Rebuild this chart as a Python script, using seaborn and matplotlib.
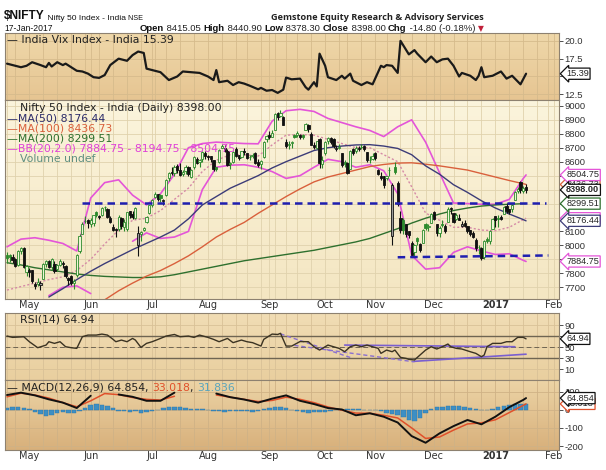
import numpy as np
import pandas as pd
import seaborn as sns
import matplotlib.pyplot as plt
from matplotlib.colors import LinearSegmentedColormap
from matplotlib.transforms import blended_transform_factory

# NSE weekday holidays inside the window (used to build the session axis)
holidays = ['2016-07-06', '2016-08-15', '2016-09-05', '2016-09-13', '2016-10-11',
            '2016-10-12', '2016-10-31', '2016-11-14', '2017-01-26']
month_labels = ['May', 'Jun', 'Jul', 'Aug', 'Sep', 'Oct', 'Nov', 'Dec', '2017', 'Feb']

# daily Nifty candles, 20-Apr-2016 .. 17-Jan-2017
opens = [7930, 7930, 7915, 7900, 7860, 7960, 7985, 7810,
         7822, 7822, 7720, 7727, 7717, 7758, 7870, 7890, 7842, 7870, 7834, 7862, 7875, 7855, 7770, 7783, 7730, 7785, 7960, 8080, 8175, 8185,
         8150, 8160, 8240, 8210, 8215, 8275, 8260, 8200, 8130, 8115, 8120, 8200, 8135, 8120, 8245, 8225, 8200, 8000, 8080, 8110, 8165, 8230,
         8290, 8345, 8365, 8360, 8320, 8360, 8480, 8525, 8520, 8570, 8540, 8510, 8530, 8560, 8490, 8560, 8620, 8600, 8620, 8660,
         8640, 8640, 8610, 8560, 8600, 8700, 8700, 8680, 8580, 8600, 8690, 8645, 8630, 8680, 8660, 8630, 8640, 8660, 8600, 8580, 8630, 8760,
         8790, 8780, 8830, 8950, 8930, 8920, 8740, 8720, 8735, 8790, 8790, 8790, 8790, 8830, 8860, 8800, 8720, 8700, 8760, 8580,
         8660, 8750, 8770, 8760, 8690, 8700, 8660, 8600, 8590, 8550, 8690, 8680, 8700, 8705, 8715, 8670, 8610, 8620,
         8660, 8540, 8500, 8500, 8480, 8540, 8067, 8560, 8450, 8200, 8180, 8150, 8100, 8020, 7950, 8050, 8010, 8020, 8150, 8130, 8160,
         8240, 8150, 8090, 8150, 8140, 8170, 8270, 8230, 8190, 8200, 8140, 8160, 8140, 8110, 8090, 8040, 7990, 7980, 7915, 8045, 8035, 8120,
         8210, 8197, 8202, 8226, 8281, 8260, 8262, 8327, 8391, 8457, 8390, 8415]
highs = [7950, 7935, 7935, 7910, 7970, 7991, 7990, 7860,
         7838, 7823, 7735, 7765, 7745, 7874, 7895, 7895, 7910, 7885, 7870, 7906, 7885, 7860, 7775, 7790, 7760, 7940, 8083, 8165, 8213, 8188,
         8200, 8220, 8250, 8220, 8275, 8285, 8265, 8213, 8150, 8125, 8215, 8205, 8190, 8240, 8247, 8245, 8275, 8140, 8100, 8135, 8210, 8292,
         8333, 8380, 8370, 8370, 8335, 8475, 8525, 8560, 8575, 8585, 8590, 8540, 8575, 8570, 8550, 8640, 8630, 8620, 8680, 8675,
         8650, 8640, 8610, 8560, 8690, 8728, 8720, 8690, 8600, 8680, 8705, 8650, 8680, 8695, 8665, 8650, 8660, 8670, 8620, 8610, 8750, 8790,
         8820, 8825, 8950, 8955, 8968, 8925, 8760, 8750, 8750, 8800, 8820, 8800, 8800, 8880, 8870, 8810, 8740, 8750, 8770, 8640,
         8745, 8780, 8780, 8770, 8720, 8725, 8660, 8610, 8600, 8685, 8700, 8710, 8710, 8725, 8720, 8670, 8640, 8665,
         8670, 8550, 8525, 8500, 8500, 8560, 8450, 8600, 8460, 8250, 8200, 8150, 8100, 8030, 8010, 8060, 8020, 8120, 8160, 8150, 8230,
         8250, 8155, 8140, 8180, 8150, 8275, 8275, 8235, 8230, 8225, 8175, 8185, 8140, 8110, 8100, 8050, 8000, 7990, 8040, 8060, 8110, 8195,
         8212, 8218, 8218, 8282, 8307, 8263, 8294, 8389, 8418, 8461, 8426, 8441]
lows = [7873, 7880, 7872, 7845, 7850, 7935, 7835, 7780,
        7777, 7730, 7690, 7711, 7678, 7758, 7845, 7838, 7825, 7800, 7820, 7855, 7840, 7770, 7718, 7715, 7685, 7775, 7947, 8080, 8160, 8123,
        8135, 8140, 8205, 8188, 8212, 8250, 8195, 8160, 8100, 8060, 8100, 8120, 8105, 8100, 8200, 8187, 8190, 7927, 8030, 8100, 8160, 8222,
        8276, 8340, 8320, 8310, 8290, 8355, 8460, 8505, 8500, 8520, 8500, 8495, 8510, 8500, 8480, 8550, 8580, 8560, 8600, 8620,
        8615, 8600, 8530, 8530, 8590, 8695, 8670, 8570, 8550, 8590, 8630, 8610, 8625, 8650, 8620, 8610, 8625, 8580, 8560, 8545, 8625, 8740,
        8760, 8775, 8825, 8900, 8920, 8860, 8700, 8690, 8700, 8770, 8780, 8760, 8760, 8825, 8810, 8720, 8690, 8690, 8555, 8555,
        8650, 8730, 8730, 8700, 8675, 8690, 8560, 8560, 8510, 8545, 8650, 8660, 8680, 8690, 8680, 8600, 8590, 8615,
        8615, 8505, 8470, 8410, 8470, 8500, 8002, 8510, 8280, 8090, 8080, 8060, 8050, 7920, 7920, 8000, 7955, 8015, 8110, 8100, 8160,
        8180, 8070, 8060, 8130, 8090, 8170, 8225, 8160, 8185, 8180, 8130, 8130, 8090, 8070, 8050, 7960, 7940, 7894, 7905, 8020, 8010, 8115,
        8134, 8134, 8180, 8223, 8233, 8226, 8238, 8322, 8374, 8374, 8373, 8378]
closes = [7912, 7914, 7899, 7855, 7962, 7979, 7847, 7850,
          7806, 7747, 7706, 7735, 7733, 7866, 7887, 7848, 7900, 7814, 7860, 7890, 7870, 7783, 7750, 7731, 7748, 7934, 8069, 8156, 8178, 8160,
          8180, 8219, 8220, 8201, 8266, 8273, 8204, 8170, 8110, 8108, 8206, 8141, 8170, 8238, 8219, 8203, 8270, 8089, 8094, 8127, 8204, 8288,
          8328, 8371, 8335, 8337, 8323, 8467, 8521, 8519, 8565, 8541, 8508, 8528, 8565, 8510, 8541, 8635, 8590, 8615, 8666, 8638,
          8637, 8622, 8545, 8551, 8683, 8711, 8678, 8575, 8592, 8672, 8643, 8624, 8673, 8667, 8629, 8632, 8650, 8592, 8573, 8607, 8744, 8786,
          8774, 8809, 8943, 8917, 8952, 8866, 8715, 8727, 8742, 8780, 8808, 8776, 8778, 8867, 8831, 8723, 8706, 8745, 8591, 8611,
          8738, 8769, 8743, 8709, 8697, 8708, 8573, 8583, 8520, 8677, 8659, 8699, 8693, 8708, 8691, 8615, 8615, 8638,
          8626, 8514, 8485, 8434, 8497, 8543, 8432, 8525, 8296, 8108, 8111, 8079, 8074, 7929, 8002, 8033, 7965, 8114, 8127, 8142, 8224,
          8192, 8086, 8128, 8143, 8102, 8262, 8261, 8170, 8221, 8182, 8153, 8139, 8104, 8082, 8061, 7980, 7986, 7909, 8032, 8035, 8104, 8186,
          8180, 8192, 8190, 8274, 8244, 8236, 8288, 8381, 8407, 8400, 8413, 8398]

# overlay lines, read every 5th session plus the last one
nan = np.nan
ma50 = [nan, nan, nan, 7630, 7690, 7755, 7815, 7870, 7920, 7970,
        8015, 8060, 8110, 8190, 8290, 8350, 8410, 8455, 8500, 8555,
        8600, 8640, 8680, 8700, 8712, 8720, 8722, 8712, 8695, 8650,
        8570, 8510, 8435, 8380, 8320, 8268, 8225, 8185, 8176]
ma100 = [nan, nan, nan, nan, nan, nan, nan, 7610, 7675, 7730,
         7780, 7820, 7870, 7925, 7990, 8060, 8115, 8165, 8230, 8290,
         8350, 8405, 8455, 8490, 8515, 8540, 8565, 8580, 8590, 8592,
         8582, 8570, 8555, 8540, 8515, 8490, 8465, 8442, 8437]
ma200 = [7876, 7860, 7840, 7825, 7810, 7795, 7785, 7778, 7774, 7770,
         7770, 7775, 7790, 7810, 7830, 7850, 7870, 7890, 7905, 7920,
         7935, 7950, 7965, 7985, 8005, 8025, 8050, 8085, 8120, 8160,
         8195, 8225, 8250, 8268, 8282, 8290, 8295, 8299, 8300]
bb_up = [7990, 8045, 8055, 8037, 8014, 7960, 8340, 8450, 8470, 8360,
         8290, 8370, 8510, 8700, 8730, 8740, 8735, 8730, 8728, 8890,
         8965, 8975, 8960, 8910, 8880, 8850, 8824, 8780, 8850, 8900,
         8740, 8520, 8304, 8300, 8295, 8295, 8330, 8480, 8505]
bb_mid = [7680, 7705, 7730, 7755, 7775, 7820, 7900, 8010, 8110, 8180,
          8195, 8250, 8330, 8410, 8530, 8610, 8650, 8650, 8640, 8720,
          8790, 8795, 8790, 8760, 8730, 8700, 8700, 8650, 8600, 8420,
          8232, 8180, 8130, 8130, 8110, 8105, 8130, 8185, 8195]
bb_lo = [nan, nan, nan, 7640, 7700, 7710, 7655, nan, nan, 8030,
         8090, 8050, 8060, 8100, 8400, 8560, 8575, 8578, 8560, 8529,
         8480, 8500, 8560, 8617, 8600, 8560, 8578, 8535, 8370, 7930,
         7830, 7840, 7950, 7990, 7960, 7935, 7940, 7893, 7885]
macd = [82, 95, 80, 58, 40, 10, 78, nan, 85, 72,
        50, 50, 95, nan, nan, 90, 70, 57, 40, 62,
        80, 50, 32, 10, 2, -30, -19, -38, -70, -145,
        -182, -130, -90, -56, -80, -38, 15, 55, 65]
signal = [72, 92, 82, 65, 40, 17, 50, 90, 84, 68,
          58, 54, 75, nan, nan, 82, 70, 58, 46, 52,
          70, 58, 40, 16, -2, -18, -19, -30, -45, -100,
          -158, -150, -112, -78, -72, -55, -15, 25, 33]
# MACD histogram, every 2nd session
macd_hist = [12, 14, 14, 12, 5, -10, -25, -35, -30, -20,
             -12, -15, -20, -8, 10, 25, 30, 28, 20, 8,
             -5, -8, -10, -8, -15, -12, -8, 0, 8, 15,
             18, 14, 10, 6, 5, 3, 0, -5, -8, -10,
             -6, -8, -8, -8, -10, -8, 2, 10, 15, 16,
             10, -3, -8, -12, -15, -12, -14, -10, -6, -3,
             0, 3, 2, 2, 0, -2, 0, -8, -15, -22,
             -30, -42, -55, -60, -45, -20, 5, 15, 18, 20,
             22, 20, 18, 12, 5, 0, -3, 5, 15, 22,
             28, 30, 32, 32]

# India VIX and RSI(14) turning points: (session number, value)
vix_pts = [(0, 16.8), (5, 16.3), (7, 16.5), (9, 17.0), (12, 16.6), (14, 16.3), (15, 16.9), (16, 16.4),
           (18, 17.0), (20, 16.6), (21, 16.8), (25, 15.8), (27, 15.7), (29, 15.4), (31, 14.9), (33, 14.8),
           (35, 15.2), (37, 16.6), (39, 17.2), (40, 17.5), (43, 17.2), (45, 18.0), (47, 18.5), (49, 18.3),
           (50, 16.1), (53, 15.8), (55, 15.6), (58, 14.5), (61, 15.0), (63, 15.7), (66, 15.6), (69, 15.5),
           (72, 15.0), (74, 14.5), (75, 15.9), (76, 14.2), (79, 14.4), (81, 13.8), (83, 14.2), (85, 14.0),
           (87, 13.7), (90, 13.2), (91, 13.4), (93, 13.0), (95, 13.1), (97, 12.7), (99, 13.15), (100, 14.85),
           (102, 14.6), (105, 14.7), (107, 13.5), (108, 13.15), (110, 14.2), (111, 13.6), (112, 18.2), (114, 16.5),
           (115, 14.9), (118, 14.5), (120, 15.1), (121, 14.7), (123, 15.4), (124, 14.4), (127, 13.8), (129, 14.2),
           (131, 13.9), (134, 16.5), (135, 16.3), (136, 16.6), (138, 16.5), (140, 15.5), (141, 20.0), (144, 18.1),
           (146, 18.7), (147, 18.2), (150, 17.0), (152, 17.8), (154, 17.0), (156, 17.4), (158, 17.5), (160, 16.5),
           (162, 15.0), (163, 15.5), (166, 15.1), (168, 14.5), (169, 15.1), (170, 16.3), (171, 14.9), (174, 15.1),
           (177, 15.7), (179, 14.7), (181, 15.1), (184, 13.9), (186, 15.39)]
rsi_pts = [(0, 70), (2, 67.6), (6, 68.8), (8, 59.7), (11, 48.8), (14, 53.6), (15, 59.7), (17, 56.7),
           (19, 59.7), (21, 50.6), (23, 48.8), (25, 47.6), (27, 68.8), (29, 71.8), (32, 71.8), (34, 73.6),
           (36, 71.8), (38, 64), (39, 59.7), (41, 62.7), (43, 59.7), (45, 65.7), (46, 62.7), (48, 49.4),
           (50, 56.7), (52, 59.7), (55, 65.7), (57, 70), (60, 72.9), (62, 68.8), (65, 70), (67, 67.6),
           (69, 71.8), (72, 67.6), (74, 64), (76, 59.7), (79, 65.7), (81, 58), (84, 62.7), (86, 59.7),
           (88, 58), (91, 51.8), (92, 64), (95, 73.6), (97, 72.9), (98, 75), (100, 51.8), (102, 51.8),
           (105, 60), (108, 59.7), (110, 50.6), (112, 44.5), (115, 53.6), (117, 50.6), (119, 47.6), (121, 41.5),
           (123, 50.6), (125, 53.6), (127, 50.6), (129, 53.6), (131, 50.6), (133, 47.6), (134, 38.5), (136, 44.5),
           (138, 41.5), (139, 44.5), (141, 31.2), (143, 29.4), (144, 27.6), (146, 26.4), (148, 35.5), (150, 44.5),
           (152, 50.6), (154, 46.4), (156, 50.6), (158, 55.5), (159, 50.6), (161, 47.6), (163, 46.4), (166, 41.5),
           (168, 38.5), (170, 32.4), (171, 35.5), (172, 50.6), (174, 56.7), (177, 56.7), (179, 59.7), (181, 59.7),
           (183, 67.6), (185, 67.6), (186, 64.94)]

# hand drawn trend lines: (session number, value) end points
price_lines = [[(27, 8305), (193, 8305)], [(140, 7915), (194, 7928)]]
rsi_dashed = [[(98, 74), (123, 31)], [(103, 53), (146, 23)]]
rsi_solid = [[(121, 53.6), (182, 50.6)], [(146, 24), (186, 37)]]

assert len(opens) == len(highs) == len(lows) == len(closes) == 187
for s in (ma50, ma100, ma200, bb_up, bb_mid, bb_lo, macd, signal):
    assert len(s) == 39
assert len(macd_hist) == 94

sns.set_theme(style='white')
plt.rcParams['font.family'] = ['DejaVu Sans']
ARIAL = ['Liberation Sans', 'DejaVu Sans']

cal = pd.bdate_range('2016-04-20', '2017-02-03').difference(pd.to_datetime(holidays))
sess = pd.Series(np.arange(len(cal)), index=cal)
day = sess.values[:len(closes)]
s5 = np.r_[day[::5], day[-1]]
s2 = day[::2]
month_pos = sess.groupby([cal.year, cal.month]).first().values[1:]
week_pos = sess.groupby(cal.to_period('W')).first().values

W, H = 606, 470
fig = plt.figure(figsize=(W / 100, H / 100), dpi=100)
fig.patch.set_facecolor('white')


def panel(y0, y1, top, bottom, grid):
    r = [5 / W, 1 - y1 / H, 554 / W, (y1 - y0) / H]
    bg = fig.add_axes(r)
    bg.imshow(np.linspace(0, 1, 64)[:, None], aspect='auto', extent=[0, 1, 0, 1],
              cmap=LinearSegmentedColormap.from_list('', [top, bottom]))
    bg.axis('off')
    ax = fig.add_axes(r)
    ax.patch.set_alpha(0)
    ax.set_xlim(-0.72, 197.8)
    ax.set_xticks(month_pos)
    ax.set_xticks(week_pos, minor=True)
    ax.grid(True, which='both', axis='x', color=grid, lw=0.6)
    ax.grid(True, which='major', axis='y', color=grid, lw=0.6)
    ax.set_axisbelow(True)
    ax.tick_params(axis='x', which='both', length=0, labelbottom=False)
    ax.yaxis.tick_right()
    ax.tick_params(axis='y', length=3, width=0.6, pad=1, colors='#333333', direction='out')
    for sp in ax.spines.values():
        sp.set_color('#8d8170')
        sp.set_linewidth(0.8)
    return ax


def yticks(ax, ticks, fmt):
    ax.set_yticks(ticks, labels=[fmt.format(t) for t in ticks], fontsize=6.8, fontfamily=ARIAL)


def month_axis(ax):
    ax.tick_params(axis='x', labelbottom=True, pad=1)
    ax.set_xticks(month_pos, labels=month_labels, fontsize=7, color='#333333')
    ax.get_xticklabels()[8].set_fontweight('bold')


def tag(ax, y, s, ec, weight='normal'):
    tr = blended_transform_factory(ax.transAxes, ax.transData)
    ax.text(1.013, y, s, transform=tr, ha='left', va='center', fontsize=6.6, fontfamily=ARIAL,
            weight=weight, clip_on=False, zorder=6,
            bbox=dict(boxstyle='larrow,pad=0.12', fc='white', ec=ec, lw=0.9))


def clean(ax):
    ax.set_xlabel('')
    ax.set_ylabel('')


# ---- India VIX ----
axv = panel(33, 100, '#efd8aa', '#e6c592', '#d6bb8c')
vix_day, vix_val = zip(*vix_pts)
sns.lineplot(x=list(vix_day), y=list(vix_val), ax=axv, color='#1a1a1a', lw=1.6)
axv.set_ylim(11.7, 21.1)
yticks(axv, [12.5, 15.0, 17.5, 20.0], '{:.1f}')
clean(axv)
tag(axv, 15.39, '15.39', '#111111')

# ---- price ----
axp = panel(100, 299, '#fbf4dc', '#f4e6c2', '#e0d2ad')
axp.plot(s5, bb_up, color='#e455d8', lw=1.2, zorder=2)
axp.plot(s5, bb_lo, color='#e455d8', lw=1.2, zorder=2)
axp.plot(s5, bb_mid, color='#d58aa6', lw=1.0, ls=(0, (1.5, 1.5)), zorder=2)
sns.lineplot(x=s5, y=ma200, ax=axp, color='#2e702e', lw=1.0, zorder=3)
sns.lineplot(x=s5, y=ma100, ax=axp, color='#d9603c', lw=1.0, zorder=3)
sns.lineplot(x=s5, y=ma50, ax=axp, color='#3c3c78', lw=1.0, zorder=3)
clean(axp)

o, h, l, c = (np.array(v, float) for v in (opens, highs, lows, closes))
prev = np.r_[c[0], c[:-1]]
up_day = c >= prev
edge = np.where(up_day, '#2c8a2c', '#111111')
face = np.where(c > o, np.where(up_day, '#eef5d6', '#9a9a9a'), edge)
axp.vlines(day, l, h, colors=edge, lw=0.8, zorder=4)
axp.bar(day, np.maximum(np.abs(c - o), 3), bottom=np.minimum(o, c), width=0.8,
        color=face, edgecolor=edge, lw=0.6, zorder=5)
for seg in price_lines:
    xs, ys = zip(*seg)
    axp.plot(xs, ys, color='#1f1fb0', lw=1.8, ls=(0, (3, 2)), zorder=6)
axp.set_ylim(7616, 9042)
yticks(axp, range(7700, 9001, 100), '{}')
month_axis(axp)

tag(axp, 8436.73, '8436.73', '#d9603c')
tag(axp, 8504.75, '8504.75', '#e455d8')
tag(axp, 8194.75, '8194.75', '#e455d8')
tag(axp, 8176.44, '8176.44', '#3c3c78')
tag(axp, 8299.51, '8299.51', '#2e702e')
tag(axp, 7884.75, '7884.75', '#e455d8')
tag(axp, 8398.00, '8398.00', '#111111', 'bold')

# ---- RSI ----
axr = panel(313, 380, '#f1ddb5', '#e9cf9f', '#d9c197')
rsi_day, rsi_val = zip(*rsi_pts)
for lvl in (70, 30):
    axr.axhline(lvl, color='#6f6552', lw=1.0, zorder=1)
axr.axhline(50, color='#6f6552', lw=0.7, ls=(0, (5, 3)), zorder=1)
for seg in rsi_dashed:
    xs, ys = zip(*seg)
    axr.plot(xs, ys, color='#8a6fd0', lw=1.0, ls=(0, (3, 2)), zorder=2)
for seg in rsi_solid:
    xs, ys = zip(*seg)
    axr.plot(xs, ys, color='#7a5fd0', lw=1.2, zorder=2)
sns.lineplot(x=list(rsi_day), y=list(rsi_val), ax=axr, color='#3b3322', lw=1.0, zorder=3)
clean(axr)
axr.set_ylim(-10, 112)
yticks(axr, [10, 30, 50, 70, 90], '{}')
tag(axr, 64.94, '64.94', '#111111')

# ---- MACD ----
axm = panel(380, 450, '#ecd4a6', '#d8b07b', '#cfb286')
axm.bar(s2, macd_hist, width=1.6, color='#3d8fc4', edgecolor='#2d76a8', lw=0.3, zorder=2)
axm.plot(s5, signal, color='#e0502a', lw=1.1, zorder=3)
axm.plot(s5, macd, color='#111111', lw=1.4, zorder=4)
axm.set_ylim(-222, 165)
yticks(axm, [-200, -100, 0, 100], '{}')
month_axis(axm)
tag(axm, 33.018, '33.018', '#e0502a')
tag(axm, 64.854, '64.854', '#111111')

# ---- header and panel legends (pixel coordinates) ----
ax0 = fig.add_axes([0, 0, 1, 1])
ax0.set_xlim(0, W)
ax0.set_ylim(H, 0)
ax0.axis('off')
ax0.set_zorder(20)


def chain(x, y, parts, family=ARIAL):
    t = None
    for s, size, color, weight in parts:
        kw = dict(fontsize=size, color=color, weight=weight, fontfamily=family)
        if t is None:
            t = ax0.text(x, y, s, ha='left', va='baseline', **kw)
        else:
            t = ax0.annotate(s, xy=(1, 0), xycoords=t, ha='left', va='bottom', **kw)
    return t


chain(4, 19, [('$NIFTY', 8.6, '#111111', 'bold'), (' Nifty 50 Index - India', 6.1, '#111111', 'normal'),
              (' NSE', 5.2, '#111111', 'normal')])
ax0.text(4, 31, '17-Jan-2017', fontsize=6.2, fontfamily=ARIAL, color='#111111', va='baseline')
ax0.text(484, 19.5, 'Gemstone Equity Research & Advisory Services', ha='right', va='baseline',
         fontsize=6.6, weight='bold', fontfamily=['Open Sans', 'DejaVu Sans'], color='#222222')
t = chain(140, 31, [('Open', 6.8, '#111111', 'bold'), (' 8415.05 ', 6.8, '#222222', 'normal'),
                    ('High', 6.8, '#111111', 'bold'), (' 8440.90 ', 6.8, '#222222', 'normal'),
                    ('Low', 6.8, '#111111', 'bold'), (' 8378.30 ', 6.8, '#222222', 'normal'),
                    ('Close', 6.8, '#111111', 'bold'), (' 8398.00 ', 6.8, '#222222', 'normal'),
                    ('Chg', 6.8, '#111111', 'bold'), (' -14.80 (-0.18%) ', 6.8, '#222222', 'normal')])
ax0.annotate('\u25bc', xy=(1, 0), xycoords=t, ha='left', va='bottom', fontsize=5.5, color='#c0203a')

LEG = 7.8
ax0.text(7, 40, '\u2014 India Vix Index - India 15.39', fontsize=LEG, color='#222222', va='center')
legend_rows = [('Nifty 50 Index - India (Daily) 8398.00', '#222222', 20),
               ('\u2014MA(50) 8176.44', '#2c2c6a', 7),
               ('\u2014MA(100) 8436.73', '#d9603c', 7),
               ('\u2014MA(200) 8299.51', '#2e702e', 7),
               ('\u2014BB(20,2.0) 7884.75 - 8194.75 - 8504.75', '#e040d8', 7),
               ('Volume undef', '#5f8f80', 20)]
for k, (s, col, x) in enumerate(legend_rows):
    ax0.text(x, 108 + 10.2 * k, s, fontsize=LEG, color=col, va='center')
ax0.text(20, 319, 'RSI(14) 64.94', fontsize=LEG, color='#222222', va='center')
t = ax0.text(7, 388, '\u2014 MACD(12,26,9) 64.854', fontsize=LEG, color='#222222', va='center')
for s, col in [(', ', '#222222'), ('33.018', '#e0502a'), (', ', '#222222'), ('31.836', '#5aa5bd')]:
    t = ax0.annotate(s, xy=(1, 0), xycoords=t, ha='left', va='bottom', fontsize=LEG, color=col)

fig.savefig('out.png', dpi=100, facecolor='white')
